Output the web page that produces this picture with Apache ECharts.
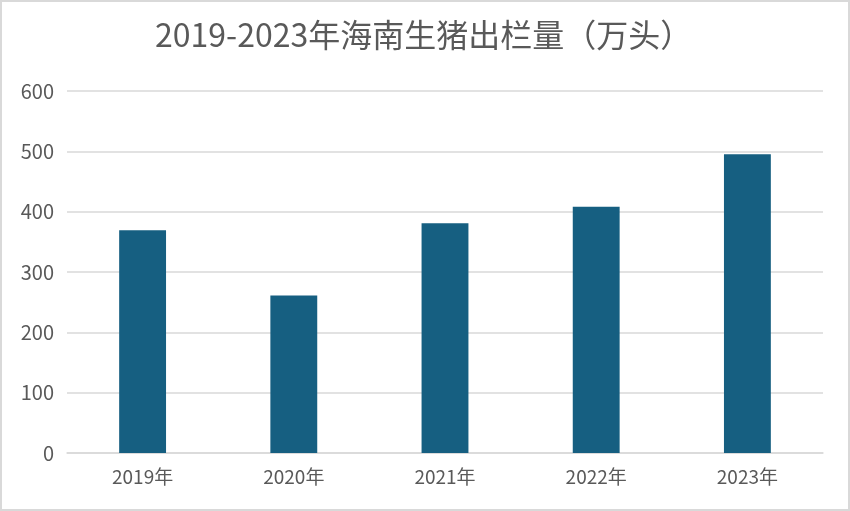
<!DOCTYPE html>
<html>
<head>
<meta charset="utf-8">
<script src="https://cdn.jsdelivr.net/npm/echarts@6/dist/echarts.min.js"></script>
<style>
	html, body { margin: 0; padding: 0; background: #fff; }
	#main { width: 850px; height: 511px; box-sizing: border-box; border: 2px solid #d9d9d9; }
</style>
</head>
<body>
<div id="main"></div>
<script>
// 年份与出栏量（万头）
var years = ['2019年', '2020年', '2021年', '2022年', '2023年'];
var output = [369, 261, 381, 408, 495];
var yTicks = [0, 100, 200, 300, 400, 500, 600];

var chart = echarts.init(document.getElementById('main'));
var fontFamily = '"Noto Sans CJK SC", "Noto Sans", sans-serif';

var option = {
	backgroundColor: '#fff',
	animation: false,
	title: {
		text: '2019-2023年海南生猪出栏量（万头）',
		left: 148,
		top: 12,
		textStyle: {
			color: '#595959',
			fontSize: 32,
			fontWeight: 'normal',
			fontFamily: fontFamily
		}
	},
	grid: {
		left: 65,
		right: 25,
		top: 89,
		bottom: 56
	},
	xAxis: {
		type: 'category',
		data: years,
		axisLine: { show: true, lineStyle: { color: '#d9d9d9', width: 1.5 } },
		axisTick: { show: false },
		axisLabel: {
			color: '#595959',
			fontSize: 19,
			margin: 14,
			fontFamily: fontFamily
		}
	},
	yAxis: {
		type: 'value',
		min: yTicks[0],
		max: yTicks[yTicks.length - 1],
		interval: 100,
		axisLine: { show: false },
		axisTick: { show: false },
		splitLine: { lineStyle: { color: '#d9d9d9', width: 1.5 } },
		axisLabel: {
			color: '#595959',
			fontSize: 20,
			margin: 13,
			fontFamily: fontFamily
		}
	},
	series: [{
		type: 'bar',
		data: output,
		barWidth: '31%',
		itemStyle: { color: '#165f81' }
	}]
};

chart.setOption(option);
</script>
</body>
</html>
